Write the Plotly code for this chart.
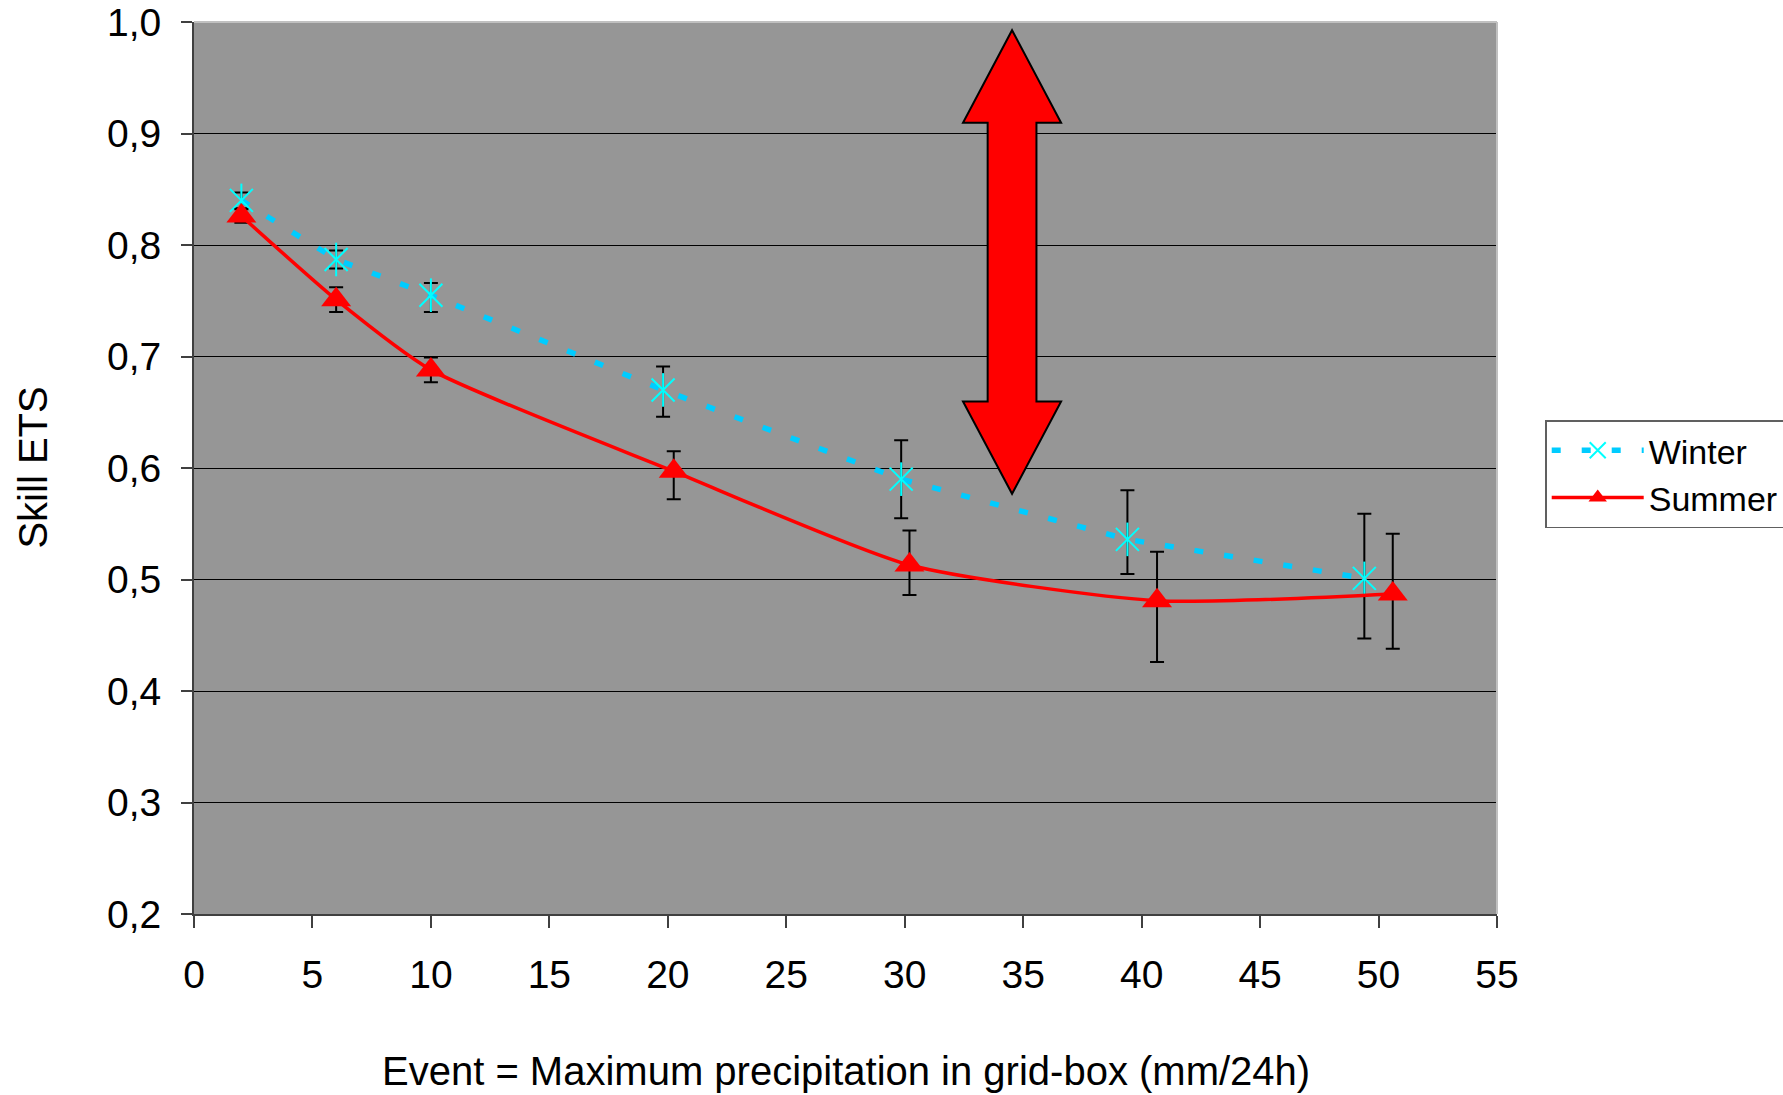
import plotly.graph_objects as go

# ---- data ----
winter_x = [2, 6, 10, 19.8, 29.85, 39.4, 49.4]
winter_y = [0.840, 0.787, 0.755, 0.670, 0.590, 0.536, 0.501]
winter_hi = [0.847, 0.795, 0.766, 0.691, 0.625, 0.580, 0.559]
winter_lo = [0.833, 0.779, 0.740, 0.646, 0.555, 0.505, 0.447]

summer_x = [2, 6, 10, 20.25, 30.2, 40.65, 50.6]
summer_y = [0.826, 0.751, 0.688, 0.597, 0.513, 0.481, 0.487]
summer_hi = [0.832, 0.762, 0.699, 0.615, 0.544, 0.525, 0.541]
summer_lo = [0.820, 0.740, 0.677, 0.572, 0.486, 0.426, 0.438]

x_ticks = [0, 5, 10, 15, 20, 25, 30, 35, 40, 45, 50, 55]
y_ticks = [0.2, 0.3, 0.4, 0.5, 0.6, 0.7, 0.8, 0.9, 1.0]

x_title = "Event = Maximum precipitation in grid-box (mm/24h)"
y_title = "Skill ETS"

# double-headed arrow annotation (data units)
arrow_xc = 34.53
arrow_head_half = 2.07
arrow_shaft_half = 1.03
arrow_top = 0.9926
arrow_head1 = 0.9096
arrow_head2 = 0.6596
arrow_bottom = 0.5769

FONT = "Liberation Sans, Arial, sans-serif"

def err(y, hi, lo):
    return [h - v for h, v in zip(hi, y)], [v - l for v, l in zip(y, lo)]

w_up, w_dn = err(winter_y, winter_hi, winter_lo)
s_up, s_dn = err(summer_y, summer_hi, summer_lo)

fig = go.Figure()

fig.add_trace(go.Scatter(
    x=winter_x, y=winter_y, name="Winter", mode="lines+markers",
    line=dict(color="#00CCFF", width=5.5, dash="9px,21px"),
    marker=dict(symbol="x-thin-open", size=23, color="#00FFFF",
                line=dict(color="#00FFFF", width=2)),
    error_y=dict(type="data", symmetric=False, array=w_up, arrayminus=w_dn,
                 color="black", thickness=2, width=7),
))
fig.add_trace(go.Scatter(
    x=winter_x, y=winter_y, mode="markers", showlegend=False, hoverinfo="skip",
    marker=dict(symbol="line-ns-open", size=24, color="#00FFFF",
                line=dict(color="#00FFFF", width=2)),
))
fig.add_trace(go.Scatter(
    x=summer_x, y=summer_y, name="Summer", mode="lines+markers",
    line=dict(color="#FF0000", width=3.5, shape="spline", smoothing=0.6),
    marker=dict(symbol="triangle-up", size=26, color="#FF0000"),
    error_y=dict(type="data", symmetric=False, array=s_up, arrayminus=s_dn,
                 color="black", thickness=2, width=7),
))

xc, hw, sw = arrow_xc, arrow_head_half, arrow_shaft_half
path = (f"M {xc},{arrow_top} L {xc+hw},{arrow_head1} L {xc+sw},{arrow_head1} "
        f"L {xc+sw},{arrow_head2} L {xc+hw},{arrow_head2} L {xc},{arrow_bottom} "
        f"L {xc-hw},{arrow_head2} L {xc-sw},{arrow_head2} L {xc-sw},{arrow_head1} "
        f"L {xc-hw},{arrow_head1} Z")
fig.add_shape(type="path", path=path, xref="x", yref="y",
              fillcolor="#FF0000", line=dict(color="black", width=2), layer="above")

# light plot-area border on top and right
fig.add_shape(type="line", xref="paper", yref="paper", x0=0, x1=1, y0=1, y1=1,
              line=dict(color="#C0C0C0", width=2), layer="above")
fig.add_shape(type="line", xref="paper", yref="paper", x0=1, x1=1, y0=0, y1=1,
              line=dict(color="#C0C0C0", width=2), layer="above")

# axis titles as annotations for exact placement
fig.add_annotation(text=x_title, xref="paper", yref="paper", x=0.5, y=-0.176,
                   xanchor="center", yanchor="middle", showarrow=False,
                   font=dict(size=40, family=FONT, color="black"))
fig.add_annotation(text=y_title, xref="paper", yref="paper", x=-0.1239, y=0.5,
                   xanchor="center", yanchor="middle", showarrow=False, textangle=-90,
                   font=dict(size=40, family=FONT, color="black"))

fig.update_layout(
    width=1783, height=1095,
    margin=dict(l=194, r=286, t=22, b=181, autoexpand=False),
    paper_bgcolor="white", plot_bgcolor="#969696",
    separators=",.",
    font=dict(family=FONT, size=39, color="black"),
    showlegend=True,
    legend=dict(x=1.037, y=0.5536, xanchor="left", yanchor="top",
                bgcolor="white", bordercolor="#606060", borderwidth=1.5,
                font=dict(size=34), itemwidth=92, tracegroupgap=0),
    xaxis=dict(range=[0, 55], tickvals=x_ticks, showgrid=False, zeroline=False,
               showline=True, linecolor="#404040", linewidth=2,
               ticks="outside", ticklen=12, tickwidth=1.5, tickcolor="#404040",
               ticklabelstandoff=13),
    yaxis=dict(range=[0.2, 1.0], tickvals=y_ticks, tickformat=".1f",
               showgrid=True, gridcolor="black", gridwidth=1.3, zeroline=False,
               showline=True, linecolor="#404040", linewidth=2,
               ticks="outside", ticklen=11, tickwidth=1.5, tickcolor="#404040",
               ticklabelstandoff=12),
)

fig.write_html("out.html")
